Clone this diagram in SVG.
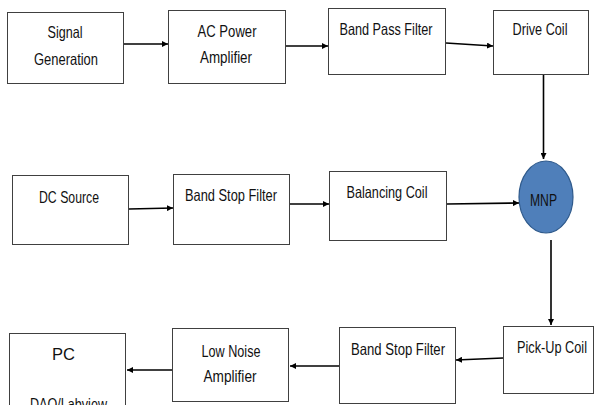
<svg xmlns="http://www.w3.org/2000/svg" width="594" height="405" viewBox="0 0 594 405">
<style>
.box{fill:#fff;stroke:#404040;stroke-width:1}
.t{font-family:"Liberation Sans","DejaVu Sans",sans-serif;font-size:16.5px;fill:#111;text-anchor:middle}
.c{stroke:#000;stroke-width:1.6;fill:none;marker-end:url(#ah)}
</style>
<defs>
<marker id="ah" viewBox="0 0 10 10" refX="10" refY="5" markerWidth="6" markerHeight="6" markerUnits="userSpaceOnUse" orient="auto">
<path d="M0,0 L10,5 L0,10 z" fill="#000"/>
</marker>
</defs>
<rect width="594" height="405" fill="#fff"/>
<g id="signal-generation"><rect class="box" x="7.5" y="12.5" width="116" height="71"/><text class="t" x="65" y="38" textLength="35" lengthAdjust="spacingAndGlyphs">Signal</text><text class="t" x="66" y="65" textLength="64" lengthAdjust="spacingAndGlyphs">Generation</text></g>
<g id="ac-power-amplifier"><rect class="box" x="168.5" y="10.5" width="117" height="73"/><text class="t" x="227" y="37" textLength="59" lengthAdjust="spacingAndGlyphs">AC Power</text><text class="t" x="226" y="63" textLength="52" lengthAdjust="spacingAndGlyphs">Amplifier</text></g>
<g id="band-pass-filter"><rect class="box" x="328.5" y="8.5" width="117" height="66"/><text class="t" x="386" y="35" textLength="93" lengthAdjust="spacingAndGlyphs">Band Pass Filter</text></g>
<g id="drive-coil"><rect class="box" x="493.5" y="10.5" width="95" height="64"/><text class="t" x="540" y="35" textLength="55" lengthAdjust="spacingAndGlyphs">Drive Coil</text></g>
<g id="dc-source"><rect class="box" x="12.5" y="175.5" width="116" height="69"/><text class="t" x="69" y="203" textLength="60" lengthAdjust="spacingAndGlyphs">DC Source</text></g>
<g id="band-stop-filter-1"><rect class="box" x="173.5" y="174.5" width="116" height="70"/><text class="t" x="231" y="201" textLength="92" lengthAdjust="spacingAndGlyphs">Band Stop Filter</text></g>
<g id="balancing-coil"><rect class="box" x="329.5" y="171.5" width="117" height="69"/><text class="t" x="387" y="198" textLength="81" lengthAdjust="spacingAndGlyphs">Balancing Coil</text></g>
<g id="mnp"><ellipse cx="546" cy="197" rx="27" ry="36" fill="#4f7fba" stroke="#2f5a8c" stroke-width="1.2"/><text class="t" x="543.5" y="206" textLength="27" lengthAdjust="spacingAndGlyphs">MNP</text></g>
<g id="pick-up-coil"><rect class="box" x="503.5" y="326.5" width="90" height="67"/><text class="t" x="552" y="353" textLength="70" lengthAdjust="spacingAndGlyphs">Pick-Up Coil</text></g>
<g id="band-stop-filter-2"><rect class="box" x="339.5" y="327.5" width="116" height="76"/><text class="t" x="398" y="355" textLength="94" lengthAdjust="spacingAndGlyphs">Band Stop Filter</text></g>
<g id="low-noise-amplifier"><rect class="box" x="172.5" y="328.5" width="116" height="73"/><text class="t" x="231" y="357" textLength="59" lengthAdjust="spacingAndGlyphs">Low Noise</text><text class="t" x="230" y="382" textLength="53" lengthAdjust="spacingAndGlyphs">Amplifier</text></g>
<g id="pc"><rect class="box" x="9.5" y="333.5" width="116" height="80"/><text class="t" x="63.5" y="360" textLength="23" lengthAdjust="spacingAndGlyphs">PC</text><text class="t" x="68.5" y="410" textLength="77" lengthAdjust="spacingAndGlyphs">DAQ/Labview</text></g>
<g id="connectors">
<line class="c" x1="124" y1="44" x2="168" y2="44"/>
<line class="c" x1="286" y1="46" x2="328" y2="46"/>
<line class="c" x1="446" y1="43" x2="493" y2="46"/>
<line class="c" x1="543.5" y1="75" x2="543.5" y2="159"/>
<line class="c" x1="129" y1="209" x2="173" y2="208"/>
<line class="c" x1="290" y1="204" x2="329" y2="204"/>
<line class="c" x1="447" y1="204" x2="519" y2="203"/>
<line class="c" x1="551" y1="240" x2="551" y2="325"/>
<line class="c" x1="503" y1="358" x2="456" y2="360"/>
<line class="c" x1="339" y1="366" x2="290" y2="366"/>
<line class="c" x1="172" y1="370" x2="127" y2="370"/>
</g>
</svg>
